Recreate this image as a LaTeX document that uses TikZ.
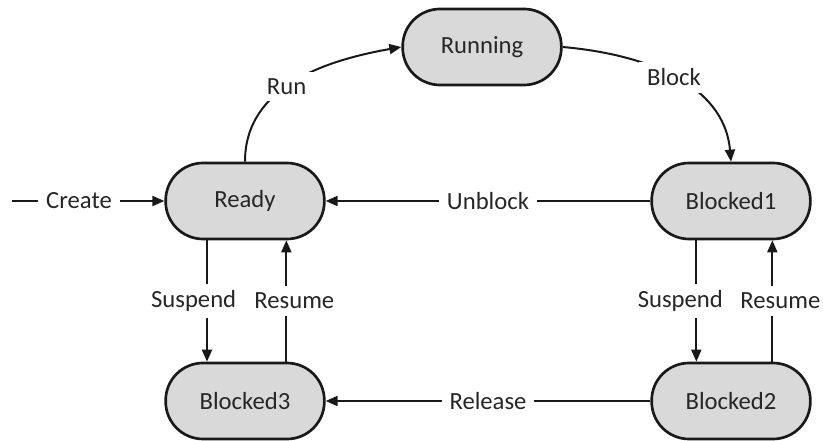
\documentclass[tikz,border=0pt]{standalone}
\usepackage{fontspec}
\setmainfont{Carlito}
\usetikzlibrary{arrows.meta}
\begin{document}
\begin{tikzpicture}[x=0.75pt,y=-0.75pt,
  state/.style={draw=black!90,line width=2pt,fill=black!15,rounded corners=28pt,
    minimum width=119pt,minimum height=57pt,inner sep=0pt,font=\fontsize{18.5}{22}\selectfont,text=black!85},
  conn/.style={line width=1.5pt,draw=black!90,-{Triangle[length=9pt,width=7.5pt]}},
  lab/.style={fill=white,inner xsep=6pt,inner ysep=5pt,font=\fontsize{18.5}{22}\selectfont,text=black!85}]
\useasboundingbox (0,0) rectangle (823,441);
\node[state] (run) at (482,47) {Running};
\node[state] (ready) at (245,201) {Ready};
\node[state] (b1) at (731,201) {Blocked1};
\node[state] (b3) at (245,401) {Blocked3};
\node[state] (b2) at (731,401) {Blocked2};
\coordinate (start) at (12,201);
\draw[conn] (start) -- (ready.west) node[lab,pos=0.44] {Create};
\draw[conn] (b1.west) -- (ready.east) node[lab,midway] {Unblock};
\draw[conn] (b2.west) -- (b3.east) node[lab,midway] {Release};
\draw[conn] (ready.north) to[out=90,in=190] node[lab,pos=0.45] {Run} (run.west);
\draw[conn] (run.east) to[out=-5,in=95] node[lab,pos=0.5] {Block} (b1.north);
\draw[conn] ([xshift=-28.5pt]ready.south) -- ([xshift=-28.5pt]b3.north) node[lab,midway,xshift=-10pt] {Suspend};
\draw[conn] ([xshift=31pt]b3.north) -- ([xshift=31pt]ready.south) node[lab,midway,xshift=6pt] {Resume};
\draw[conn] ([xshift=-26pt]b1.south) -- ([xshift=-26pt]b2.north) node[lab,midway,xshift=-12pt] {Suspend};
\draw[conn] ([xshift=31pt]b2.north) -- ([xshift=31pt]b1.south) node[lab,midway,xshift=6pt] {Resume};
\end{tikzpicture}
\end{document}
